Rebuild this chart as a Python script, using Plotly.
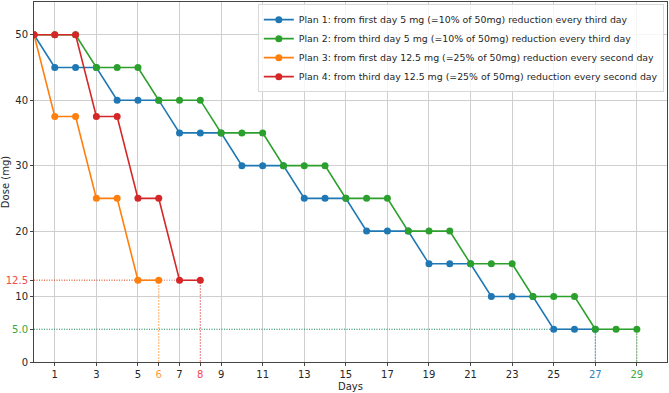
import plotly.graph_objects as go

days1 = list(range(0, 28))
plan1 = [50, 45, 45, 45, 40, 40, 40, 35, 35, 35, 30, 30, 30, 25, 25, 25,
         20, 20, 20, 15, 15, 15, 10, 10, 10, 5, 5, 5]
days2 = list(range(0, 30))
plan2 = [50, 50, 50, 45, 45, 45, 40, 40, 40, 35, 35, 35, 30, 30, 30, 25, 25, 25,
         20, 20, 20, 15, 15, 15, 10, 10, 10, 5, 5, 5]
days3 = list(range(0, 7))
plan3 = [50, 37.5, 37.5, 25, 25, 12.5, 12.5]
days4 = list(range(0, 9))
plan4 = [50, 50, 50, 37.5, 37.5, 25, 25, 12.5, 12.5]

names = [
    "Plan 1: from first day 5 mg (=10% of 50mg) reduction every third day",
    "Plan 2: from third day 5 mg (=10% of 50mg) reduction every third day",
    "Plan 3: from first day 12.5 mg (=25% of 50mg) reduction every second day",
    "Plan 4: from third day 12.5 mg (=25% of 50mg) reduction every second day",
]
colors = ["#1f77b4", "#2ca02c", "#ff7f0e", "#d62728"]
label_colors = ["#2f7fb8", "#3aa63a", "#ff9a3c", "#ee4a4c"]
series = [(days1, plan1), (days2, plan2), (days3, plan3), (days4, plan4)]

main_xticks = list(range(1, 30, 2))
main_yticks = [0, 10, 20, 30, 40, 50]

fig = go.Figure()

# drop lines (end day / final dose)
for (d, v), c in zip(series, colors):
    end_day, end_dose = d[-1], v[-1]
    fig.add_trace(go.Scatter(x=[0, end_day], y=[end_dose, end_dose], mode="lines",
                             line=dict(color=c, width=0.9, dash="1px,1.5px"), opacity=0.75,
                             showlegend=False, hoverinfo="skip"))
    fig.add_trace(go.Scatter(x=[end_day, end_day], y=[0, end_dose], mode="lines",
                             line=dict(color=c, width=1.1, dash="2px,1px"), opacity=0.55,
                             showlegend=False, hoverinfo="skip", xaxis="x2", yaxis="y2"))

for (d, v), c, n in zip(series, colors, names):
    fig.add_trace(go.Scatter(x=d, y=v, mode="lines+markers", name=n,
                             line=dict(color=c, width=1.6),
                             marker=dict(color=c, size=7)))

# tick labels
end_days = [s[0][-1] for s in series]
end_doses = [s[1][-1] for s in series]
xt_text = []
for t in main_xticks:
    lab = str(t)
    if t in end_days:
        lab = '<span style="color:%s">%d</span>' % (label_colors[end_days.index(t)], t)
    xt_text.append(lab)
extra_x = [d for d in end_days if d not in main_xticks]
extra_x_text = ['<span style="color:%s">%d</span>' % (label_colors[end_days.index(d)], d) for d in extra_x]
extra_y = sorted(set(end_doses))
extra_y_text = []
for yv in extra_y:
    idx = max(i for i, e in enumerate(end_doses) if e == yv)
    extra_y_text.append('<span style="color:%s">%s</span>' % (label_colors[idx], str(float(yv))))

font = dict(family="DejaVu Sans", size=10, color="#262626")
xr = [0, 30.45]
yr = [0, 55]

fig.update_layout(
    width=669, height=393,
    margin=dict(l=34, r=2, t=2, b=31),
    plot_bgcolor="white", paper_bgcolor="white",
    font=font,
    showlegend=True,
    legend=dict(x=0.995, y=0.994, xanchor="right", yanchor="top",
                bgcolor="rgba(255,255,255,0.8)", bordercolor="#d8d8d8", borderwidth=1,
                font=dict(family="DejaVu Sans", size=9.4, color="#262626"),
                tracegroupgap=0, itemwidth=30),
    xaxis=dict(range=xr, tickvals=main_xticks, ticktext=xt_text, showgrid=True,
               gridcolor="#cfcfcf", gridwidth=1, zeroline=False, showline=True,
               linecolor="#444", linewidth=1, mirror=True, ticks="outside", ticklen=3,
               tickcolor="#444", title=dict(text="Days", standoff=3, font=font)),
    yaxis=dict(range=yr, tickvals=main_yticks, showgrid=True, gridcolor="#cfcfcf",
               gridwidth=1, zeroline=False, showline=True, linecolor="#444", linewidth=1,
               mirror=True, ticks="outside", ticklen=3, tickcolor="#444",
               title=dict(text="Dose (mg)", standoff=4, font=font)),
    xaxis2=dict(range=xr, overlaying="x", anchor="y2", side="bottom", tickvals=extra_x,
                ticktext=extra_x_text, showgrid=False, zeroline=False, showline=False,
                ticks="outside", ticklen=3, tickcolor="#444", matches="x"),
    yaxis2=dict(range=yr, overlaying="y", anchor="x2", side="left", tickvals=extra_y,
                ticktext=extra_y_text, showgrid=False, zeroline=False, showline=False,
                ticks="outside", ticklen=3, tickcolor="#444", matches="y"),
)

fig.write_html("out.html")
